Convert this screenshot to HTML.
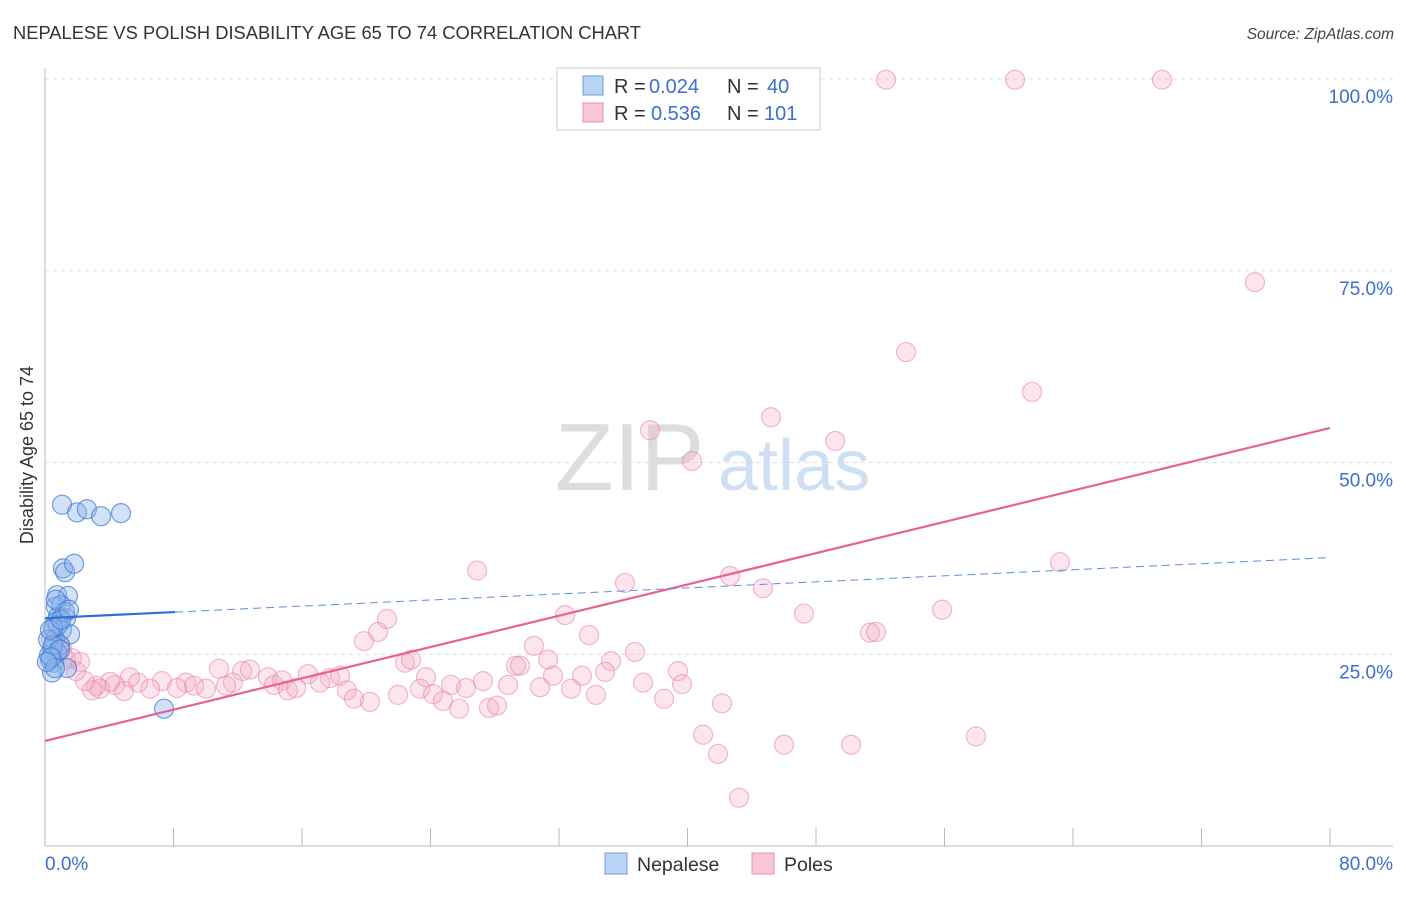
<!DOCTYPE html>
<html><head><meta charset="utf-8"><style>
body{margin:0;background:#fff;font-family:"Liberation Sans",sans-serif}
svg text{font-family:"Liberation Sans",sans-serif}
</style></head><body>
<svg id="c" width="1406" height="892">
<text x="13" y="39" font-size="18" fill="#333" textLength="628" lengthAdjust="spacingAndGlyphs">NEPALESE VS POLISH DISABILITY AGE 65 TO 74 CORRELATION CHART</text>
<text x="1394" y="39" font-size="15.5" fill="#444" text-anchor="end" font-style="italic">Source: ZipAtlas.com</text>
<g><text x="555" y="490" font-size="96" fill="#ddd" font-family="Liberation Serif">ZIP</text><text x="718" y="490" font-size="72" fill="#cfe0f4">atlas</text></g>
<g id="grid"></g><g id="axes"></g><g id="pts"></g><g id="trend"></g>
<text x="33" y="455" font-size="18" fill="#333" text-anchor="middle" transform="rotate(-90 33 455)">Disability Age 65 to 74</text>
<g>
<rect x="557" y="68" width="263" height="62" fill="#fff" stroke="#ccc"/>
<rect x="583" y="76" width="20" height="19" fill="#b9d4f5" stroke="#6a9be0"/>
<rect x="583" y="103" width="20" height="19" fill="#f9c6d6" stroke="#e88fac"/>
<text y="93" font-size="20" fill="#333"><tspan x="614">R = </tspan><tspan fill="#3b6fd0" x="649">0.024</tspan><tspan x="727">N = </tspan><tspan fill="#3b6fd0" x="767">40</tspan></text>
<text y="120" font-size="20" fill="#333"><tspan x="614">R = </tspan><tspan fill="#3b6fd0" x="651">0.536</tspan><tspan x="727">N = </tspan><tspan fill="#3b6fd0" x="764">101</tspan></text>
</g>
<g>
<rect x="605" y="853" width="22" height="21" fill="#b9d4f5" stroke="#6a9be0"/>
<text x="637" y="871" font-size="19.5" fill="#333">Nepalese</text>
<rect x="752" y="853" width="22" height="21" fill="#f9c6d6" stroke="#e88fac"/>
<text x="784" y="871" font-size="19.5" fill="#333">Poles</text>
</g>
</svg>
<script>
const yTicks=[25,50,75,100];
const yTickLabels=["25.0%","50.0%","75.0%","100.0%"];
const xEndLabels=["0.0%","80.0%"];
const blueX=[1.06,1.99,2.61,3.49,4.73,1.12,1.25,1.81,0.75,1.43,0.68,1.0,0.81,1.31,0.68,1.06,1.56,0.62,0.93,0.44,0.75,0.31,0.56,0.25,1.37,0.44,7.41,0.81,0.5,0.19,0.5,0.93,1.25,0.37,0.62,0.31,1.0,0.68,1.49,0.12];
const blueY=[44.5,43.5,43.9,43.0,43.4,36.2,35.7,36.8,32.7,32.6,31.2,31.4,29.9,29.7,29.2,28.2,27.6,26.9,26.2,25.6,25.3,24.3,23.9,24.9,23.2,22.6,17.9,28.8,28.4,26.9,26.2,25.6,30.5,24.6,23.2,28.2,29.5,32.1,30.8,24.0];
const pinkX=[52.36,60.39,69.54,75.33,53.61,61.45,45.2,49.19,37.67,40.28,63.19,26.9,36.11,42.65,44.7,55.85,47.25,32.38,21.29,20.73,51.36,51.74,33.87,30.44,19.86,36.73,31.32,35.24,22.41,22.79,29.32,29.57,39.41,23.72,34.87,31.63,33.43,10.83,12.27,12.76,13.88,14.76,16.37,17.74,18.37,27.27,25.28,37.23,39.66,28.83,11.7,11.27,14.26,15.13,15.63,17.12,18.8,23.35,26.21,30.82,32.75,34.3,8.78,9.28,10.02,7.28,8.22,6.54,5.79,5.29,4.36,4.05,3.42,4.92,3.18,2.49,1.93,1.68,1.06,1.31,2.18,21.98,19.24,20.23,24.16,24.78,25.78,27.64,28.14,38.54,42.15,40.97,41.9,46.01,50.18,57.96,43.21,0.37,0.81,2.93,0.56,0.93];
const pinkY=[99.9,99.9,99.9,73.5,64.4,59.2,55.9,52.8,54.2,50.2,37.0,35.9,34.3,35.2,33.6,30.8,30.3,30.1,29.6,27.9,27.8,27.9,27.5,26.1,26.7,25.3,24.3,24.1,23.9,24.3,23.5,23.5,22.8,22.0,22.7,22.2,22.2,23.1,22.8,23.0,22.0,21.6,22.4,21.9,22.2,21.5,21.0,21.3,21.1,21.0,21.3,20.9,21.0,20.3,20.6,21.3,20.3,20.5,20.6,20.7,20.5,19.7,21.3,20.9,20.5,21.5,20.6,20.5,21.3,22.0,21.0,21.4,20.5,20.2,20.9,21.5,22.8,24.5,25.8,24.3,24.0,19.7,19.2,18.8,19.8,18.9,17.9,18.0,18.3,19.2,18.6,14.5,12.0,13.2,13.2,14.3,6.3,26.9,24.9,20.3,28.4,26.1];
const pinkTrend=[13.7,54.5];
const blueTrend=[29.7,37.6];
const blueSolidEnd=8.1;

const NS="http://www.w3.org/2000/svg";
const X=v=>45+v/80*1285, Y=v=>846-v/100*767;
function mk(tag,attrs,parent){const e=document.createElementNS(NS,tag);for(const k in attrs)e.setAttribute(k,attrs[k]);parent.appendChild(e);return e;}
const grid=document.getElementById('grid'),axes=document.getElementById('axes'),pts=document.getElementById('pts'),trend=document.getElementById('trend');
yTicks.forEach((t,i)=>{
 const l=mk('line',{x1:45,x2:1393,y1:Y(t),y2:Y(t),stroke:'#ddd','stroke-dasharray':'4,4'},grid);
 
 
 const tx=mk('text',{x:1393,y:Y(t)+24,'font-size':19,fill:'#3b6fd0','text-anchor':'end'},axes);
 tx.textContent=yTickLabels[i];
 
 
});
let a=mk('line',{x1:45,x2:45,y1:68,y2:846,stroke:'#bbb'},axes);


a=mk('line',{x1:45,x2:1393,y1:846,y2:846,stroke:'#bbb'},axes);


for(let i=0;i<=10;i++){
 const t=mk('line',{x1:X(i*8),x2:X(i*8),y1:828,y2:846,stroke:'#bbb'},axes);
 
 
}
[[0,'start'],[80,'end']].forEach((p,i)=>{
 const t=mk('text',{x:i?1393:45,y:870,'font-size':19,fill:'#3b6fd0','text-anchor':p[1]},axes);
 t.textContent=xEndLabels[i];
 
 
});
pinkX.forEach((v,i)=>{
 const c=mk('circle',{cx:X(v),cy:Y(pinkY[i]),r:9.5,fill:'rgba(246,170,198,0.3)',stroke:'rgba(232,130,165,0.55)','stroke-width':1.2},pts);
 
 
});
blueX.forEach((v,i)=>{
 const c=mk('circle',{cx:X(v),cy:Y(blueY[i]),r:9.5,fill:'rgba(140,180,235,0.4)',stroke:'rgba(60,120,210,0.7)','stroke-width':1.2},pts);
 
 
});
const bAt=x=>blueTrend[0]+(blueTrend[1]-blueTrend[0])*x/80;
let t=mk('line',{x1:X(0),y1:Y(pinkTrend[0]),x2:X(80),y2:Y(pinkTrend[1]),stroke:'#e8628f','stroke-width':2.2},trend);


t=mk('line',{x1:X(0),y1:Y(bAt(0)),x2:X(blueSolidEnd),y2:Y(bAt(blueSolidEnd)),stroke:'#2a6fd6','stroke-width':2.2},trend);


t=mk('line',{x1:X(blueSolidEnd),y1:Y(bAt(blueSolidEnd)),x2:X(80),y2:Y(bAt(80)),stroke:'#5a8ee0','stroke-width':1,'stroke-dasharray':'8,5'},trend);


</script>
</body></html>
